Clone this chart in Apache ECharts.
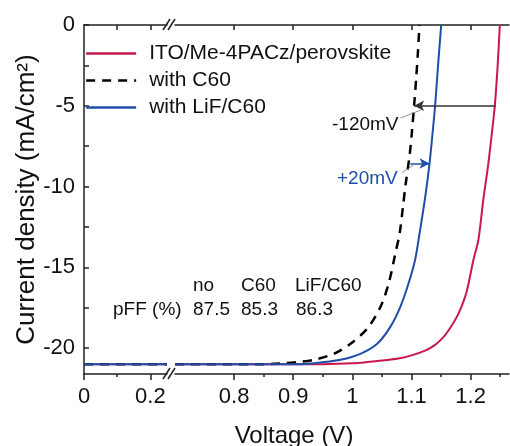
<!DOCTYPE html>
<html><head><meta charset="utf-8">
<script src="https://cdn.jsdelivr.net/npm/echarts@6/dist/echarts.min.js"></script>
<style>html,body{margin:0;padding:0;background:#fff}#c{width:510px;height:446px}</style>
</head><body><div id="c"></div>
<script>
const seriesNames = ['ITO/Me-4PACz/perovskite', 'with C60', 'with LiF/C60'];
// left (broken) segment, 0 - 0.25 V
const vLeft = [0, 0.25];
const jLeft = [-21.0, -21.0];
// right segment
const vRef = [0.70, 0.90, 0.95, 1.00, 1.025, 1.05, 1.08, 1.10, 1.125, 1.14, 1.154, 1.166, 1.177, 1.186, 1.194, 1.2047, 1.2132, 1.2216, 1.230, 1.236, 1.241, 1.2455, 1.2495];
const jRef = [-21.0, -21.0, -20.99, -20.93, -20.86, -20.77, -20.63, -20.45, -20.12, -19.8, -19.32, -18.72, -18.05, -17.3, -16.42, -14.56, -13.3, -10.8, -8.6, -6.7, -5.0, -2.7, 0];
const vC60 = [0.70, 0.85, 0.88, 0.9125, 0.935, 0.9686, 0.9968, 1.025, 1.0474, 1.0614, 1.0727, 1.080, 1.0856, 1.090, 1.0969, 1.1008, 1.105, 1.108, 1.111, 1.1135];
const jC60 = [-21.0, -20.99, -20.94, -20.84, -20.72, -20.35, -19.73, -18.8, -17.46, -16.0, -14.15, -12.9, -11.26, -9.9, -8.06, -6.6, -4.75, -3.3, -1.65, 0];
const vLiF = [0.70, 0.90, 0.925, 0.946, 0.98, 1.0137, 1.042, 1.064, 1.081, 1.095, 1.106, 1.112, 1.1233, 1.1306, 1.1362, 1.140, 1.145, 1.1503];
const jLiF = [-21.0, -21.0, -20.96, -20.89, -20.72, -20.35, -19.73, -18.7, -17.46, -16.0, -14.56, -13.3, -10.64, -8.57, -6.5, -5.0, -2.5, 0];
// arrows / leaders (data coordinates)
const arrowBlack = [[1.2427, -5.0], [1.1045, -5.0]];
const arrowBlue = [[1.098, -8.57], [1.1306, -8.57]];
const leaderBlack = [[1.0815, -5.76], [1.1155, -5.27]];
const leaderBlue = [[1.084, -9.15], [1.103, -8.68]];
// ticks
const xLabelsLeft = [0, 0.2];
const xMinorLeft = [0.1];
const xTopLeft = [0.1, 0.2];
const xLabelsRight = [0.8, 0.9, 1, 1.1, 1.2];
const xMinorRight = [0.85, 0.95, 1.05, 1.15, 1.25];
const yLabels = [0, -5, -10, -15, -20];
const yTicks = [0, -2.5, -5, -7.5, -10, -12.5, -15, -17.5, -20];
const pffHeaders = ['no', 'C60', 'LiF/C60'];
const pffValues = ['87.5', '85.3', '86.3'];

const FONT = '"Liberation Sans", Arial, Helvetica, sans-serif';
const AX = '#222';
const RED = '#c8184c';
const BLUE = '#1f4ea6';
const zip = (a, b) => a.map((v, i) => [v, b[i]]);
const lineStyleAxis = { color: AX, width: 1.5 };

function bottomAxis(grid, min, max, labels, showLine) {
  return {
    type: 'value', gridIndex: grid, position: 'bottom', min: min, max: max,
    axisLine: { show: showLine, onZero: false, lineStyle: lineStyleAxis },
    axisTick: { show: true, length: 6, customValues: labels, lineStyle: lineStyleAxis },
    axisLabel: { show: true, customValues: labels, fontSize: 22, margin: 12, color: '#111', fontFamily: FONT },
    splitLine: { show: false }
  };
}
function minorAxis(grid, min, max, ticks) {
  return {
    type: 'value', gridIndex: grid, position: 'bottom', min: min, max: max,
    axisLine: { show: false, onZero: false },
    axisTick: { show: true, length: 3, customValues: ticks, lineStyle: lineStyleAxis },
    axisLabel: { show: false }, splitLine: { show: false }
  };
}
function topAxis(grid, min, max, ticks) {
  return {
    type: 'value', gridIndex: grid, position: 'top', min: min, max: max,
    axisLine: { show: true, onZero: false, lineStyle: lineStyleAxis },
    axisTick: { show: true, inside: true, length: 5, customValues: ticks, lineStyle: lineStyleAxis },
    axisLabel: { show: false }, splitLine: { show: false }
  };
}

const xRight0 = bottomAxis(1, 0.70, 1.265, xLabelsRight, true);
xRight0.name = 'Voltage (V)';
xRight0.nameLocation = 'middle';
xRight0.nameGap = 50;
xRight0.nameMoveOverlap = false;
xRight0.nameTextStyle = { fontSize: 24, color: '#111', fontFamily: FONT, padding: [0, 96, 0, 0] };

const chart = echarts.init(document.getElementById('c'), null, { renderer: 'canvas' });
const common = { type: 'line', symbol: 'none', smooth: 0.3, animation: false, z: 2 };
const option = {
  backgroundColor: '#fff',
  animation: false,
  grid: [
    { left: 84, top: 25, width: 83, bottom: 72, outerBoundsMode: 'none', containLabel: false },
    { left: 175, top: 25, right: 1, bottom: 72, outerBoundsMode: 'none', containLabel: false }
  ],
  xAxis: [
    bottomAxis(0, 0, 0.25, xLabelsLeft, true),
    minorAxis(0, 0, 0.25, xMinorLeft),
    topAxis(0, 0, 0.25, xTopLeft),
    xRight0,
    minorAxis(1, 0.70, 1.265, xMinorRight),
    topAxis(1, 0.70, 1.265, xLabelsRight)
  ],
  yAxis: [
    {
      type: 'value', gridIndex: 0, min: -21.6, max: 0,
      axisLine: { show: true, onZero: false, lineStyle: lineStyleAxis },
      axisTick: { show: true, inside: true, length: 5, customValues: yTicks, lineStyle: lineStyleAxis },
      axisLabel: { show: true, customValues: yLabels, fontSize: 22, margin: 9, color: '#111', fontFamily: FONT },
      splitLine: { show: false },
      name: 'Current density (mA/cm²)', nameLocation: 'middle', nameGap: 44, nameMoveOverlap: false,
      nameTextStyle: { fontSize: 26, color: '#111', fontFamily: FONT }
    },
    { type: 'value', gridIndex: 1, min: -21.6, max: 0, show: false, axisLine: { onZero: false }, splitLine: { show: false } }
  ],
  legend: {
    data: seriesNames, orient: 'vertical', left: 85, top: 43, padding: 0,
    itemWidth: 50, itemHeight: 14, itemGap: 6,
    itemStyle: { color: 'transparent', borderColor: 'transparent', borderWidth: 0, opacity: 0 },
    lineStyle: { width: 2.3 },
    textStyle: { fontSize: 21, color: '#111', fontFamily: FONT, lineHeight: 21, padding: [0, 0, 0, 8] }
  },
  series: [
    Object.assign({}, common, { name: seriesNames[0], xAxisIndex: 0, yAxisIndex: 0, data: zip(vLeft, jLeft), lineStyle: { color: RED, width: 2 }, itemStyle: { color: RED } }),
    Object.assign({}, common, { name: seriesNames[1], xAxisIndex: 0, yAxisIndex: 0, data: zip(vLeft, jLeft), lineStyle: { color: '#000', width: 2.5, type: [9, 7] }, itemStyle: { color: '#000' } }),
    Object.assign({}, common, { name: seriesNames[2], xAxisIndex: 0, yAxisIndex: 0, data: zip(vLeft, jLeft), lineStyle: { color: BLUE, width: 2 }, itemStyle: { color: BLUE } }),
    Object.assign({}, common, { name: seriesNames[0], xAxisIndex: 3, yAxisIndex: 1, data: zip(vRef, jRef), lineStyle: { color: RED, width: 2 }, itemStyle: { color: RED } }),
    Object.assign({}, common, { name: seriesNames[1], xAxisIndex: 3, yAxisIndex: 1, data: zip(vC60, jC60), lineStyle: { color: '#000', width: 2.5, type: [9, 7] }, itemStyle: { color: '#000' },
      markLine: {
        silent: true, animation: false, symbol: ['none', 'arrow'], symbolSize: [8, 10],
        label: { show: false },
        data: [
          [{ coord: arrowBlack[0], lineStyle: { color: '#333', width: 1.5, type: 'solid' } }, { coord: arrowBlack[1] }],
          [{ coord: arrowBlue[0], lineStyle: { color: BLUE, width: 1.5, type: 'solid' } }, { coord: arrowBlue[1] }]
        ]
      } }),
    Object.assign({}, common, { name: seriesNames[2], xAxisIndex: 3, yAxisIndex: 1, data: zip(vLiF, jLiF), lineStyle: { color: BLUE, width: 2 }, itemStyle: { color: BLUE },
      markLine: {
        silent: true, animation: false, symbol: ['none', 'none'],
        label: { show: false },
        data: [
          [{ coord: leaderBlack[0], lineStyle: { color: '#777', width: 0.8, type: 'solid' } }, { coord: leaderBlack[1] }],
          [{ coord: leaderBlue[0], lineStyle: { color: '#777', width: 0.8, type: 'solid' } }, { coord: leaderBlue[1] }]
        ]
      } })
  ],
  graphic: [
    // axis break marks
    { type: 'line', shape: { x1: 163, y1: 379, x2: 170, y2: 368 }, style: { stroke: AX, lineWidth: 1.5 }, z: 10 },
    { type: 'line', shape: { x1: 168, y1: 379, x2: 175, y2: 368 }, style: { stroke: AX, lineWidth: 1.5 }, z: 10 },
    { type: 'line', shape: { x1: 163, y1: 30, x2: 170, y2: 19 }, style: { stroke: AX, lineWidth: 1.5 }, z: 10 },
    { type: 'line', shape: { x1: 168, y1: 30, x2: 175, y2: 19 }, style: { stroke: AX, lineWidth: 1.5 }, z: 10 },
    // annotations
    { type: 'text', left: 332, top: 115, style: { text: '-120mV', fontSize: 19, fill: '#111', fontFamily: FONT } },
    { type: 'text', left: 337, top: 169, style: { text: '+20mV', fontSize: 19, fill: BLUE, fontFamily: FONT } },
    { type: 'text', left: 193, top: 276, style: { text: pffHeaders[0], fontSize: 19, fill: '#111', fontFamily: FONT } },
    { type: 'text', left: 241, top: 276, style: { text: pffHeaders[1], fontSize: 19, fill: '#111', fontFamily: FONT } },
    { type: 'text', left: 295, top: 276, style: { text: pffHeaders[2], fontSize: 19, fill: '#111', fontFamily: FONT } },
    { type: 'text', left: 113, top: 300, style: { text: 'pFF (%)', fontSize: 19, fill: '#111', fontFamily: FONT } },
    { type: 'text', left: 193, top: 300, style: { text: pffValues[0], fontSize: 19, fill: '#111', fontFamily: FONT } },
    { type: 'text', left: 241, top: 300, style: { text: pffValues[1], fontSize: 19, fill: '#111', fontFamily: FONT } },
    { type: 'text', left: 296, top: 300, style: { text: pffValues[2], fontSize: 19, fill: '#111', fontFamily: FONT } }
  ]
};
chart.setOption(option);
</script></body></html>
